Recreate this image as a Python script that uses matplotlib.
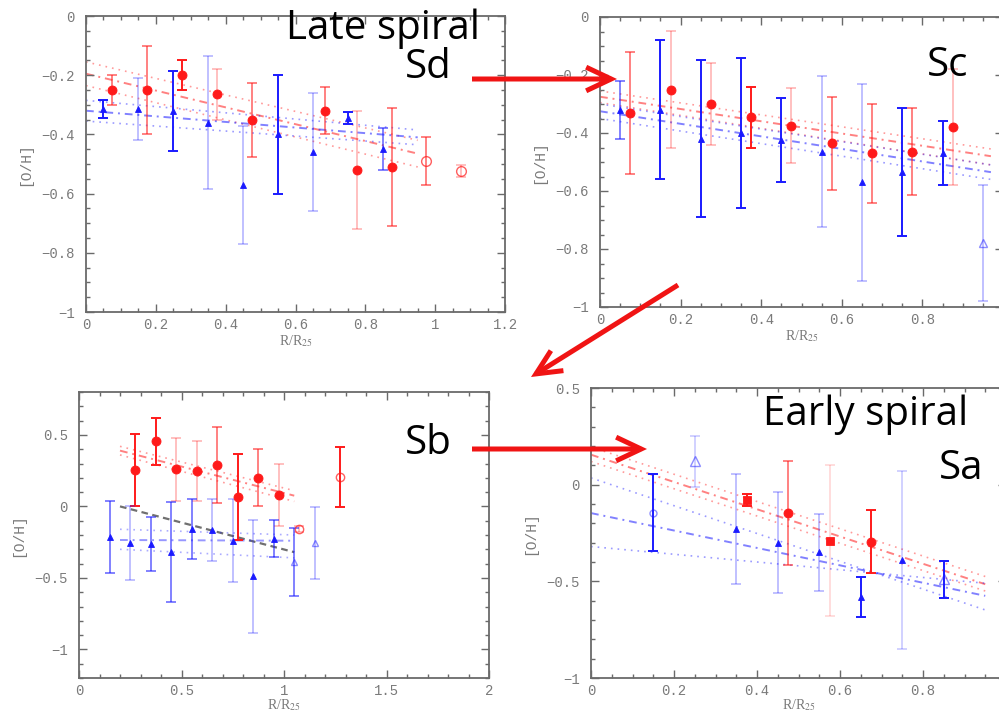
import matplotlib
matplotlib.use('Agg')
import matplotlib.pyplot as plt
from matplotlib.patches import FancyArrowPatch
from matplotlib.ticker import MultipleLocator

plt.rcParams['mathtext.fontset'] = 'stix'

# ---------------- data ----------------
# Panel Sd (top-left)
sd_red_x = [0.075, 0.175, 0.275, 0.375, 0.475, 0.685, 0.775, 0.875]
sd_red_y = [-0.25, -0.25, -0.20, -0.265, -0.35, -0.32, -0.52, -0.51]
sd_red_err = [0.05, 0.15, 0.05, 0.085, 0.125, 0.08, 0.20, 0.20]
sd_red_open_x = [0.975, 1.075]
sd_red_open_y = [-0.49, -0.525]
sd_red_open_err = [0.08, 0.02]
sd_blue_x = [0.05, 0.15, 0.25, 0.35, 0.45, 0.55, 0.65, 0.75, 0.85]
sd_blue_y = [-0.315, -0.315, -0.32, -0.36, -0.57, -0.40, -0.46, -0.345, -0.45]
sd_blue_err = [0.03, 0.105, 0.135, 0.225, 0.20, 0.20, 0.20, 0.02, 0.07]
sd_fit_x = [0.0, 0.95]
sd_red_fit = [-0.195, -0.465]
sd_red_fit_hi = [-0.155, -0.42]
sd_red_fit_lo = [-0.235, -0.51]
sd_blue_fit = [-0.32, -0.41]
sd_blue_fit_hi = [-0.285, -0.385]
sd_blue_fit_lo = [-0.355, -0.435]

# Panel Sc (top-right)
sc_blue_x = [0.05, 0.15, 0.25, 0.35, 0.45, 0.55, 0.65, 0.75, 0.85]
sc_blue_y = [-0.32, -0.32, -0.42, -0.40, -0.425, -0.465, -0.57, -0.535, -0.47]
sc_blue_err = [0.10, 0.24, 0.27, 0.26, 0.145, 0.26, 0.34, 0.22, 0.11]
sc_blue_open_x = [0.95]
sc_blue_open_y = [-0.78]
sc_blue_open_err = [0.20]
sc_red_x = [0.075, 0.175, 0.275, 0.375, 0.475, 0.575, 0.675, 0.775, 0.875]
sc_red_y = [-0.33, -0.25, -0.30, -0.345, -0.375, -0.435, -0.47, -0.465, -0.38]
sc_red_err = [0.21, 0.20, 0.14, 0.105, 0.13, 0.16, 0.17, 0.15, 0.20]
sc_fit_x = [0.0, 0.97]
sc_red_fit = [-0.275, -0.48]
sc_red_fit_hi = [-0.255, -0.455]
sc_red_fit_lo = [-0.295, -0.51]
sc_blue_fit = [-0.325, -0.535]
sc_blue_fit_hi = [-0.30, -0.51]
sc_blue_fit_lo = [-0.35, -0.56]

# Panel Sb (bottom-left)
sb_red_x = [0.275, 0.375, 0.475, 0.575, 0.675, 0.775, 0.875, 0.975]
sb_red_y = [0.255, 0.455, 0.26, 0.245, 0.29, 0.065, 0.20, 0.08]
sb_red_err = [0.25, 0.165, 0.22, 0.21, 0.265, 0.30, 0.20, 0.22]
sb_red_open_x = [1.075, 1.275]
sb_red_open_y = [-0.16, 0.205]
sb_red_open_err = [0.02, 0.21]
sb_blue_x = [0.15, 0.25, 0.35, 0.45, 0.55, 0.65, 0.75, 0.85, 0.95]
sb_blue_y = [-0.215, -0.255, -0.265, -0.32, -0.155, -0.165, -0.24, -0.49, -0.225]
sb_blue_err = [0.25, 0.26, 0.19, 0.35, 0.21, 0.22, 0.29, 0.395, 0.13]
sb_blue_open_x = [1.05, 1.15]
sb_blue_open_y = [-0.39, -0.255]
sb_blue_open_err = [0.24, 0.25]
sb_fit_x = [0.2, 1.05]
sb_red_fit = [0.39, 0.075]
sb_red_fit_hi = [0.42, 0.11]
sb_red_fit_lo = [0.36, 0.035]
sb_black_fit = [0.0, -0.32]
sb_blue_fit = [-0.235, -0.24]
sb_blue_fit_hi = [-0.16, -0.20]
sb_blue_fit_lo = [-0.30, -0.36]

# Panel Sa (bottom-right)
sa_red_circ_x = [0.475, 0.675]
sa_red_circ_y = [-0.147, -0.294]
sa_red_circ_err = [0.27, 0.165]
sa_red_sq_x = [0.375, 0.575]
sa_red_sq_y = [-0.08, -0.29]
sa_red_sq_err = [0.03, 0.39]
sa_blue_x = [0.35, 0.45, 0.55, 0.65, 0.75]
sa_blue_y = [-0.23, -0.30, -0.35, -0.58, -0.39]
sa_blue_err = [0.285, 0.26, 0.20, 0.105, 0.46]
sa_blue_oc_x = [0.15]
sa_blue_oc_y = [-0.145]
sa_blue_oc_err = [0.20]
sa_blue_ot_x = [0.25, 0.85]
sa_blue_ot_y = [0.12, -0.49]
sa_blue_ot_err = [0.13, 0.095]
sa_fit_x = [0.0, 0.95]
sa_red_fit = [0.155, -0.515]
sa_red_fit_hi = [0.195, -0.475]
sa_red_fit_lo = [0.12, -0.55]
sa_blue_fit = [-0.147, -0.575]
sa_blue_fit_hi = [0.035, -0.648]
sa_blue_fit_lo = [-0.32, -0.51]

# ---------------- styles (error-bar opacity per point) ----------------
S, M, L = 1.0, 0.55, 0.28
sd_red_a = [M, M, S, L, M, M, L, M]
sd_red_open_a = [M, L]
sd_blue_a = [S, L, S, L, L, S, L, S, M]
sc_blue_a = [M, S, S, S, S, L, L, S, S]
sc_blue_open_a = [L]
sc_red_a = [M, L, L, S, L, M, M, M, L]
sb_red_a = [S, S, L, L, M, S, M, L]
sb_red_open_a = [L, S]
sb_blue_a = [M, L, M, M, M, L, L, L, M]
sb_blue_open_a = [M, L]
sa_red_circ_a = [M, S]
sa_red_sq_a = [S, 0.15]
sa_blue_a = [L, L, L, S, 0.2]
sa_blue_oc_a = [S]
sa_blue_ot_a = [0.2, S]

RED = '#ff1a1a'
BLUE = '#1a1aff'
AX = '#6a6a6a'
TXT = '#7a7a7a'

W, H = 999, 714
fig = plt.figure(figsize=(9.99, 7.14), dpi=100)


def fbox(l, t, r, b):
    return [l / W, 1 - b / H, (r - l) / W, (b - t) / H]


def points(ax, x, y, err, alphas, color, marker, filled=True, ms=6.5, malpha=1.0):
    for xi, yi, ei, a in zip(x, y, err, alphas):
        ax.errorbar([xi], [yi], yerr=[ei], fmt='none', ecolor=color, alpha=a,
                    elinewidth=1.4, capsize=3.8, capthick=1.4, zorder=2)
    ax.plot(x, y, linestyle='none', marker=marker, ms=ms, color=color,
            mfc=color if filled else 'none', mew=0.6 if filled else 1.0,
            alpha=malpha, zorder=3)


def fits(ax, fx, center, hi, lo, color, alpha=0.55):
    ax.plot(fx, center, color=color, lw=1.4, alpha=alpha, ls=(0, (4, 2.5, 1, 2.5)), zorder=1)
    ax.plot(fx, hi, color=color, lw=1.2, alpha=alpha * 0.8, ls=(0, (1, 3)), zorder=1)
    ax.plot(fx, lo, color=color, lw=1.2, alpha=alpha * 0.8, ls=(0, (1, 3)), zorder=1)


def style(ax, xlim, ylim, xmin, ymin, xticks, xlabels, yticks, ylabels, xpad=0):
    ax.set_xlim(*xlim)
    ax.set_ylim(*ylim)
    ax.set_xticks(xticks)
    ax.set_xticklabels(xlabels)
    ax.set_yticks(yticks)
    ax.set_yticklabels(ylabels)
    ax.xaxis.set_minor_locator(MultipleLocator(xmin))
    ax.yaxis.set_minor_locator(MultipleLocator(ymin))
    ax.tick_params(which='both', direction='in', top=True, right=True, color=AX,
                   width=1.0, labelcolor=TXT, labelsize=10)
    ax.tick_params(which='major', length=6)
    ax.tick_params(axis='y', which='major', pad=8)
    ax.tick_params(axis='x', which='major', pad=4)
    ax.tick_params(which='minor', length=3)
    for lab in ax.get_xticklabels() + ax.get_yticklabels():
        lab.set_family('Liberation Mono')
    for sp in ax.spines.values():
        sp.set_color(AX)
        sp.set_linewidth(1.3)
    ax.set_xlabel('R/R$_{25}$', fontsize=10, color=TXT, family='Liberation Serif', labelpad=xpad)
    ax.set_ylabel('[O/H]', fontsize=10.5, color=TXT, family='Liberation Mono', labelpad=7)


# ---- Panel Sd ----
ax1 = fig.add_axes(fbox(86, 16, 505, 312))
fits(ax1, sd_fit_x, sd_red_fit, sd_red_fit_hi, sd_red_fit_lo, RED)
fits(ax1, sd_fit_x, sd_blue_fit, sd_blue_fit_hi, sd_blue_fit_lo, BLUE)
points(ax1, sd_red_x, sd_red_y, sd_red_err, sd_red_a, RED, 'o')
points(ax1, sd_red_open_x, sd_red_open_y, sd_red_open_err, sd_red_open_a, RED, 'o', filled=False, ms=7, malpha=0.7)
points(ax1, sd_blue_x, sd_blue_y, sd_blue_err, sd_blue_a, BLUE, '^', ms=5)
style(ax1, (0, 1.2), (-1, 0), 0.05, 0.05,
      [0, 0.2, 0.4, 0.6, 0.8, 1.0, 1.2], ['0', '0.2', '0.4', '0.6', '0.8', '1', '1.2'],
      [-1, -0.8, -0.6, -0.4, -0.2, 0], ['\u22121', '\u22120.8', '\u22120.6', '\u22120.4', '\u22120.2', '0'], xpad=1)

# ---- Panel Sc ----
ax2 = fig.add_axes(fbox(600, 17, 1003, 307))
fits(ax2, sc_fit_x, sc_red_fit, sc_red_fit_hi, sc_red_fit_lo, RED)
fits(ax2, sc_fit_x, sc_blue_fit, sc_blue_fit_hi, sc_blue_fit_lo, BLUE)
points(ax2, sc_blue_x, sc_blue_y, sc_blue_err, sc_blue_a, BLUE, '^', ms=5)
points(ax2, sc_blue_open_x, sc_blue_open_y, sc_blue_open_err, sc_blue_open_a, BLUE, '^', filled=False, ms=6, malpha=0.5)
points(ax2, sc_red_x, sc_red_y, sc_red_err, sc_red_a, RED, 'o')
style(ax2, (0, 1.0), (-1, 0), 0.05, 0.05,
      [0, 0.2, 0.4, 0.6, 0.8], ['0', '0.2', '0.4', '0.6', '0.8'],
      [-1, -0.8, -0.6, -0.4, -0.2, 0], ['\u22121', '\u22120.8', '\u22120.6', '\u22120.4', '\u22120.2', '0'], xpad=1)

# ---- Panel Sb ----
ax3 = fig.add_axes(fbox(79, 392, 489, 678))
fits(ax3, sb_fit_x, sb_red_fit, sb_red_fit_hi, sb_red_fit_lo, RED)
ax3.plot(sb_fit_x, sb_black_fit, color='#333333', lw=1.6, alpha=0.7, ls=(0, (3, 2)), zorder=1)
fits(ax3, sb_fit_x, sb_blue_fit, sb_blue_fit_hi, sb_blue_fit_lo, BLUE, alpha=0.45)
points(ax3, sb_red_x, sb_red_y, sb_red_err, sb_red_a, RED, 'o')
points(ax3, sb_red_open_x, sb_red_open_y, sb_red_open_err, sb_red_open_a, RED, 'o', filled=False, ms=6, malpha=0.7)
points(ax3, sb_blue_x, sb_blue_y, sb_blue_err, sb_blue_a, BLUE, '^', ms=5)
points(ax3, sb_blue_open_x, sb_blue_open_y, sb_blue_open_err, sb_blue_open_a, BLUE, '^', filled=False, ms=5, malpha=0.5)
style(ax3, (0, 2.0), (-1.2, 0.8), 0.1, 0.1,
      [0, 0.5, 1.0, 1.5, 2.0], ['0', '0.5', '1', '1.5', '2'],
      [-1, -0.5, 0, 0.5], ['\u22121', '\u22120.5', '0', '0.5'], xpad=0)

# ---- Panel Sa ----
ax4 = fig.add_axes(fbox(591, 388, 1006, 678))
fits(ax4, sa_fit_x, sa_red_fit, sa_red_fit_hi, sa_red_fit_lo, RED)
fits(ax4, sa_fit_x, sa_blue_fit, sa_blue_fit_hi, sa_blue_fit_lo, BLUE)
points(ax4, sa_red_circ_x, sa_red_circ_y, sa_red_circ_err, sa_red_circ_a, RED, 'o')
points(ax4, sa_red_sq_x, sa_red_sq_y, sa_red_sq_err, sa_red_sq_a, RED, 's', ms=6)
points(ax4, sa_blue_x, sa_blue_y, sa_blue_err, sa_blue_a, BLUE, '^', ms=5)
points(ax4, sa_blue_oc_x, sa_blue_oc_y, sa_blue_oc_err, sa_blue_oc_a, BLUE, 'o', filled=False, ms=5, malpha=0.5)
points(ax4, sa_blue_ot_x, sa_blue_ot_y, sa_blue_ot_err, sa_blue_ot_a, BLUE, '^', filled=False, ms=7, malpha=0.5)
style(ax4, (0, 1.0), (-1, 0.5), 0.05, 0.1,
      [0, 0.2, 0.4, 0.6, 0.8], ['0', '0.2', '0.4', '0.6', '0.8'],
      [-1, -0.5, 0, 0.5], ['\u22121', '\u22120.5', '0', '0.5'], xpad=0)

# ---- annotations ----
FONT = 'Open Sans'
FS = 29
def label(s, x, y):
    fig.text(x / W, 1 - y / H, s, fontsize=FS, family=FONT, color='black',
             ha='left', va='baseline', zorder=10)

label('Late spiral', 286, 39)
label('Sd', 405, 78)
label('Sc', 927, 76)
label('Sb', 405, 454)
label('Early spiral', 763, 425)
label('Sa', 939, 479)

ARROW = '#f01414'
def arrow(x0, y0, x1, y1):
    a = FancyArrowPatch((x0 / W, 1 - y0 / H), (x1 / W, 1 - y1 / H),
                        transform=fig.transFigure,
                        arrowstyle='->,head_length=18,head_width=8.5',
                        lw=3.6, color=ARROW, shrinkA=0, shrinkB=0,
                        capstyle='butt', joinstyle='miter', zorder=20)
    fig.add_artist(a)

arrow(472, 79, 617, 79)
arrow(678, 285, 531, 377)
arrow(472, 449, 647, 449)

fig.savefig('out.png', dpi=100)
